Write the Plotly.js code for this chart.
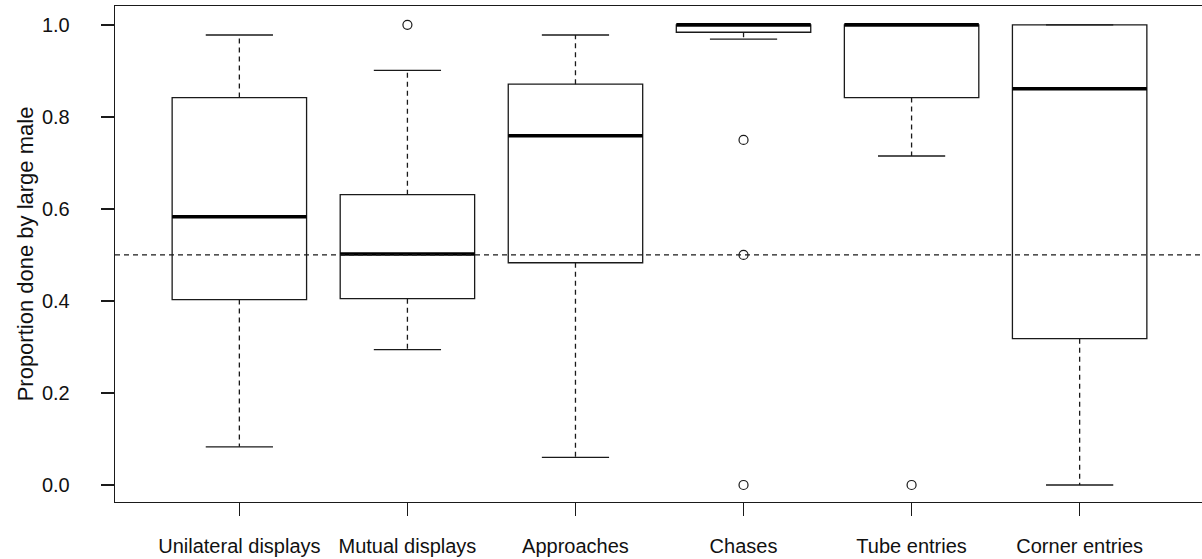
<!DOCTYPE html>
<html>
<head>
<meta charset="utf-8">
<script src="https://cdn.plot.ly/plotly-3.0.1.min.js"></script>
<style>
html,body{margin:0;padding:0;background:#fff;overflow:hidden;}
#chart{width:1204px;height:559px;}
</style>
</head>
<body>
<div id="chart"></div>
<script>
const categories = ["Unilateral displays", "Mutual displays", "Approaches", "Chases", "Tube entries", "Corner entries"];
const lowerWhisker = [0.083, 0.294, 0.060, 0.969, 0.715, 0.000];
const q1 = [0.403, 0.405, 0.483, 0.984, 0.842, 0.318];
const median = [0.583, 0.502, 0.759, 1.000, 1.000, 0.861];
const q3 = [0.842, 0.631, 0.871, 1.000, 1.000, 1.000];
const upperWhisker = [0.978, 0.901, 0.978, 1.000, 1.000, 1.000];
const outliers = [[], [1.0], [], [0.75, 0.5, 0.0], [0.0], []];
const yTicks = [0, 0.2, 0.4, 0.6, 0.8, 1.0];
const referenceLine = 0.5;
const yTitle = "Proportion done by large male";

const positions = categories.map((c, i) => i + 1);
const boxWidth = 0.8;
const capHalf = 0.2;
const lineColor = "#1a1a1a";
const traces = [];

// Boxes (whiskers drawn separately as dashed lines, as in base R)
positions.forEach((p, i) => {
  traces.push({
    type: "box", x: [p], q1: [q1[i]], median: [median[i]], q3: [q3[i]],
    lowerfence: [q1[i]], upperfence: [q3[i]],
    width: boxWidth, whiskerwidth: 0, boxpoints: false,
    line: {color: lineColor, width: 1.3}, fillcolor: "rgba(0,0,0,0)",
    hoverinfo: "skip", showlegend: false
  });
});

// Dashed whiskers
const wx = [], wy = [];
positions.forEach((p, i) => {
  wx.push(p, p, null, p, p, null);
  wy.push(q3[i], upperWhisker[i], null, q1[i], lowerWhisker[i], null);
});
traces.push({type: "scatter", mode: "lines", x: wx, y: wy,
  line: {color: lineColor, width: 1.3, dash: "5px,4px"}, hoverinfo: "skip", showlegend: false});

// Whisker caps
const cx = [], cy = [];
positions.forEach((p, i) => {
  cx.push(p - capHalf, p + capHalf, null, p - capHalf, p + capHalf, null);
  cy.push(upperWhisker[i], upperWhisker[i], null, lowerWhisker[i], lowerWhisker[i], null);
});
traces.push({type: "scatter", mode: "lines", x: cx, y: cy,
  line: {color: lineColor, width: 1.3}, hoverinfo: "skip", showlegend: false});

// Thick medians
const mx = [], my = [];
positions.forEach((p, i) => {
  mx.push(p - boxWidth / 2, p + boxWidth / 2, null);
  my.push(median[i], median[i], null);
});
traces.push({type: "scatter", mode: "lines", x: mx, y: my,
  line: {color: "#000", width: 3.5}, hoverinfo: "skip", showlegend: false});

// Outliers
const ox = [], oy = [];
positions.forEach((p, i) => outliers[i].forEach(v => { ox.push(p); oy.push(v); }));
traces.push({type: "scatter", mode: "markers", x: ox, y: oy,
  marker: {symbol: "circle-open", size: 9, color: lineColor, line: {width: 1.2, color: lineColor}},
  hoverinfo: "skip", showlegend: false});

const font = "Liberation Sans, Arial, sans-serif";
const layout = {
  width: 1204, height: 559,
  margin: {l: 115, r: 0, t: 6, b: 57},
  paper_bgcolor: "#fff", plot_bgcolor: "#fff",
  boxmode: "overlay",
  showlegend: false,
  font: {family: font, size: 20, color: "#111"},
  xaxis: {
    range: [0.26, 6.74], tickvals: positions, ticktext: categories,
    ticks: "outside", ticklen: 13, tickwidth: 1.3, tickcolor: lineColor,
    showline: true, mirror: true, linecolor: lineColor, linewidth: 1.3,
    showgrid: false, zeroline: false, ticklabelstandoff: 13,
    tickfont: {family: font, size: 20, color: "#111"}
  },
  yaxis: {
    range: [-0.037, 1.041], tickvals: yTicks, ticktext: yTicks.map(v => v.toFixed(1)),
    ticks: "outside", ticklen: 13, tickwidth: 1.3, tickcolor: lineColor,
    showline: true, mirror: true, linecolor: lineColor, linewidth: 1.3,
    showgrid: false, zeroline: false, ticklabelstandoff: 27,
    tickfont: {family: font, size: 20, color: "#111"},
    title: {text: yTitle, font: {family: font, size: 22, color: "#111"}, standoff: 2}
  },
  shapes: [{type: "line", xref: "paper", yref: "y", x0: 0, x1: 1, y0: referenceLine, y1: referenceLine,
    line: {color: lineColor, width: 1.3, dash: "5px,4px"}, layer: "above"}]
};

Plotly.newPlot("chart", traces, layout, {displayModeBar: false, staticPlot: true});
</script>
</body>
</html>
